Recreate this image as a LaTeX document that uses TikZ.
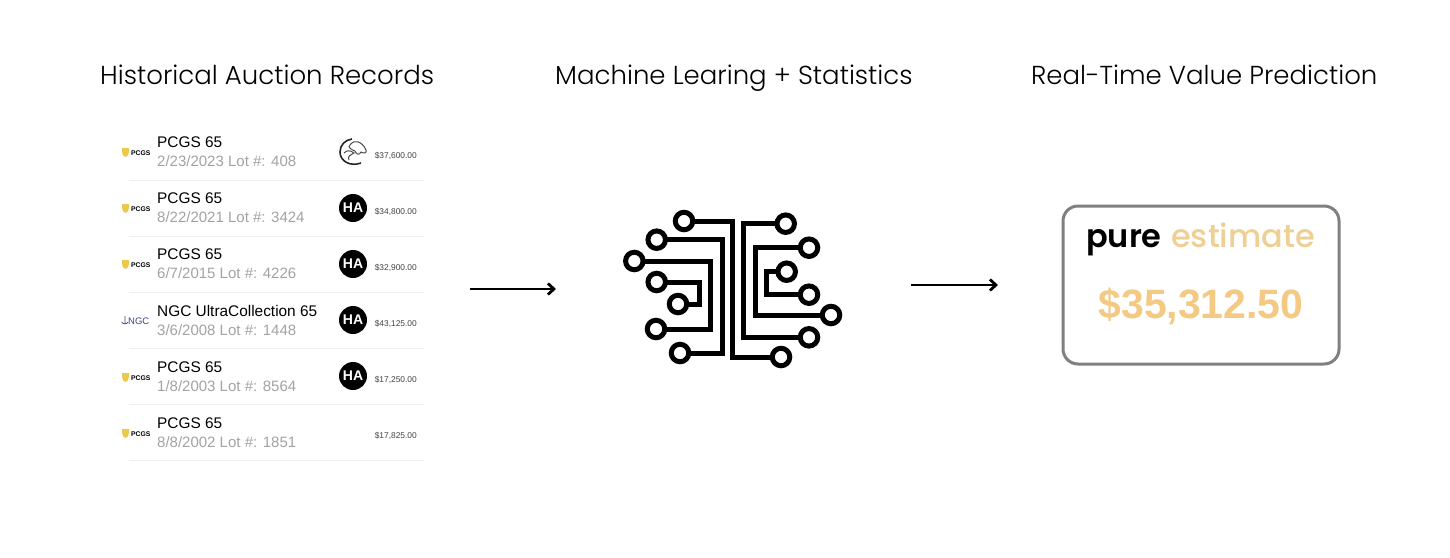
\documentclass[tikz,border=0pt]{standalone}
\usepackage{fontspec}
\setmainfont{Liberation Sans}
\newfontfamily\titlefont{Poppins}[UprightFont=* Light]
\newfontfamily\brandfont{Poppins}[UprightFont=* Medium]
\newfontfamily\purefont{Poppins}[UprightFont=* SemiBold]
\usetikzlibrary{arrows.meta}
\definecolor{subgrey}{HTML}{A3A3A3}
\definecolor{rulegrey}{HTML}{EFEFEF}
\definecolor{pricegrey}{HTML}{444444}
\definecolor{boxgrey}{HTML}{808080}
\definecolor{gold}{HTML}{F0CF95}
\definecolor{goldnum}{HTML}{F4C983}
\definecolor{shield}{HTML}{EBC94A}
\definecolor{ngcblue}{HTML}{3A4A80}
\tikzset{
  heading/.style={anchor=base west,inner sep=0,font=\titlefont\fontsize{26}{30}\selectfont},
  rowtitle/.style={anchor=base west,inner sep=0,font=\fontsize{15.4}{18}\selectfont,text=black},
  rowsub/.style={anchor=base west,inner sep=0,font=\fontsize{15}{17}\selectfont,text=subgrey},
  rowprice/.style={anchor=base east,inner sep=0,font=\fontsize{8.4}{10}\selectfont,text=pricegrey},
  habadge/.style={circle,fill=black,inner sep=0,minimum size=28,text=white,font=\bfseries\fontsize{14}{15}\selectfont},
  pcgstext/.style={anchor=base west,inner sep=0,font=\bfseries\fontsize{6.8}{8}\selectfont,text=black},
  ngctext/.style={anchor=base west,inner sep=0,font=\fontsize{9.5}{10}\selectfont,text=ngcblue},
  pad/.style={circle,draw=black,line width=5,fill=white,inner sep=0,outer sep=0,minimum size=17.5},
  wire/.style={draw=black,line width=5,line join=miter},
  flow/.style={draw=black,line width=2.8,-{Straight Barb[length=6,width=11,line width=2.8]}},
}
\begin{document}
\begin{tikzpicture}[x=1pt,y=-1pt]
\useasboundingbox (0,0) rectangle (1450,557);
\fill[white] (0,0) rectangle (1450,557);
% headings
\node[heading] (h1) at (100,84.3) {Historical Auction Records};
\node[heading] (h2) at (555,84.3) {Machine Learing + Statistics};
\node[heading] (h3) at (1031,84.3) {Real-Time Value Prediction};
% rows
\foreach \i/\base/\low/\ttl/\sub/\price in {
 1/147/147/PCGS 65/2\slash 23\slash 2023 Lot \#: 408/\$37{,}600.00,
 2/203/203/PCGS 65/8\slash 22\slash 2021 Lot \#: 3424/\$34{,}800.00,
 3/259/259/PCGS 65/6\slash 7\slash 2015 Lot \#: 4226/\$32{,}900.00,
 4/316/315/NGC UltraCollection 65/3\slash 6\slash 2008 Lot \#: 1448/\$43{,}125.00,
 5/372/371/PCGS 65/1\slash 8\slash 2003 Lot \#: 8564/\$17{,}250.00,
 6/428/427/PCGS 65/8\slash 8\slash 2002 Lot \#: 1851/\$17{,}825.00}{
  \node[rowtitle] (t\i) at (157,\base) {\ttl};
  \node[rowsub] (s\i) at (157,\base+19.5) {\sub};
  \node[rowprice] (p\i) at (417,\low+11) {\price};
  \draw[rulegrey,line width=1] (129,\low+33) -- (424,\low+33);
}
% grader logos
\foreach \b in {148,204,260,373,429}{
  \fill[shield] (122,\b) -- (129,\b) -- (129,\b+4) .. controls (129,\b+7) and (127,\b+8.5) .. (125.5,\b+9) .. controls (124,\b+8.5) and (122,\b+7) .. (122,\b+4) -- cycle;
  \node[pcgstext] at (131,\b+7.5) {PCGS};
}
\node[ngctext] (ngc) at (128,324) {NGC};
\draw[ngcblue,line width=.7] (125,316) -- (125,323) (121.5,322) .. controls (123,324.5) and (127,324.5) .. (128,322);
% house badges
\foreach \y/\n in {208/2,264/3,320/4,376/5}{
  \node[habadge] (ha\n) at (353,\y) {HA};
}
% first house logo
\draw[black!85,line width=1.6] (361,163) .. controls (350,167) and (340,161) .. (340,152) .. controls (340,145) and (345,140) .. (352,139);
\draw[black!70,line width=1] (349,160) .. controls (347,156) and (351,155) .. (354,153) .. controls (350,150) and (347,150) .. (344,153) (350,145) .. controls (354,139) and (362,141) .. (366,150) .. controls (367,153) and (364,154) .. (361,152) .. controls (359,156) and (356,154) .. (355,151) (350,145) .. controls (347,147) and (352,150) .. (355,151);
% circuit pads
\node[pad] (c1) at (684,221) {};
\node[pad] (c2) at (656.7,239.7) {};
\node[pad] (c3) at (634.3,261) {};
\node[pad] (c4) at (656.7,282) {};
\node[pad] (c5) at (678,304) {};
\node[pad] (c6) at (656,329) {};
\node[pad] (c7) at (680,353) {};
\node[pad] (c8) at (781,357) {};
\node[pad] (r1) at (785.7,223.7) {};
\node[pad] (r2) at (809,247.7) {};
\node[pad] (r3) at (786.7,271.7) {};
\node[pad] (r4) at (809,294.7) {};
\node[pad] (r5) at (831,315) {};
\node[pad] (r6) at (809,337.3) {};
\coordinate (b1) at (732.7,0);
\coordinate (b2) at (722.7,0);
\coordinate (b3) at (710,0);
\coordinate (b4) at (699.3,0);
\coordinate (b5) at (743.3,0);
\coordinate (b6) at (755.3,0);
\coordinate (b7) at (766,0);
\draw[wire] (c1.east) -- (c1 -| b1) -- (c8 -| b1) -- (c8.west);
\draw[wire] (c2.east) -- (c2 -| b2) -- (c7 -| b2) -- (c7.east);
\draw[wire] (c3.east) -- (c3 -| b3) -- (c6 -| b3) -- (c6.east);
\draw[wire] (c4.east) -- (c4 -| b4) -- (c5 -| b4) -- (c5.east);
\draw[wire] (r1.west) -- (r1 -| b5) -- (r6 -| b5) -- (r6.west);
\draw[wire] (r2.west) -- (r2 -| b6) -- (r5 -| b6) -- (r5.west);
\draw[wire] (r3.west) -- (r3 -| b7) -- (r4 -| b7) -- (r4.west);
% arrows
\coordinate (a1s) at (470,289); \coordinate (a1e) at (556,289);
\coordinate (a2s) at (911,285); \coordinate (a2e) at (998,285);
\draw[flow] (a1s) -- (a1e);
\draw[flow] (a2s) -- (a2e);
% estimate card
\node[draw=boxgrey,line width=3,rounded corners=15,fill=white,minimum width=276,minimum height=158,inner sep=0] (card) at (1201,285) {};
\node[anchor=base west,inner sep=0,font=\purefont\fontsize{32}{36}\selectfont] (pure) at (1086,247) {pure};
\node[anchor=base west,inner sep=0,font=\brandfont\fontsize{32}{36}\selectfont,text=gold] (est) at (1171,247) {estimate};
\node[anchor=base,inner sep=0,font=\bfseries\fontsize{41}{44}\selectfont,text=goldnum] (val) at (1201,318) {\$35,312.50};
\end{tikzpicture}
\end{document}
